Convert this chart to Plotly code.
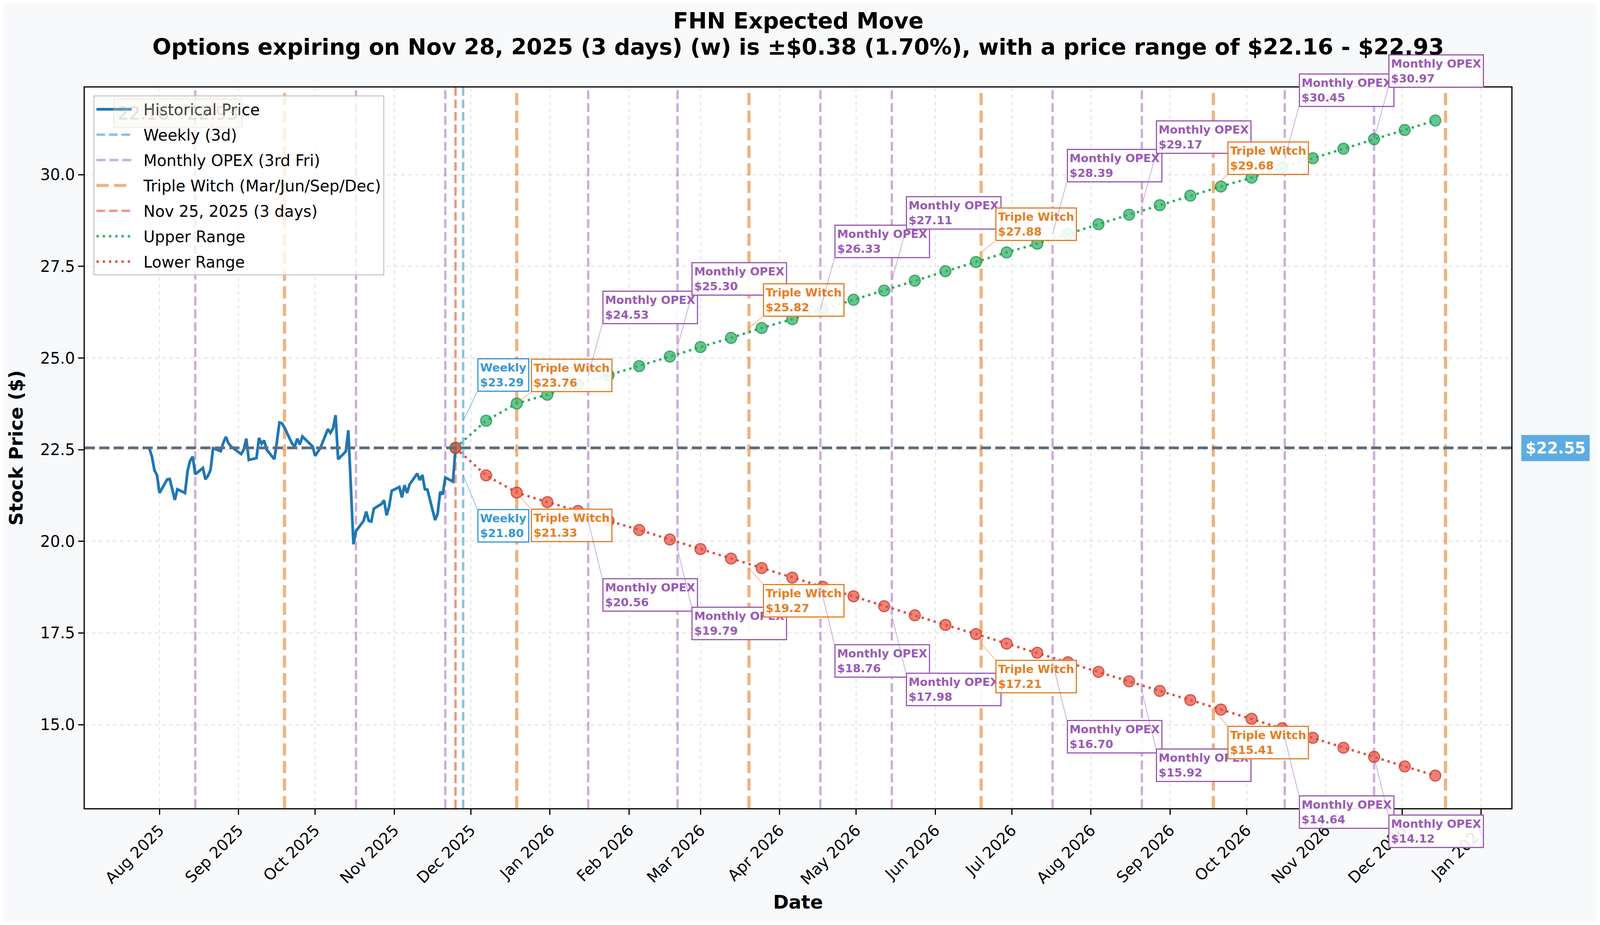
import plotly.graph_objects as go

# Historical closes
hist_dates = [
    "2025-07-28", "2025-07-29", "2025-07-30", "2025-07-31", "2025-08-01",
    "2025-08-04", "2025-08-05", "2025-08-06", "2025-08-07", "2025-08-08",
    "2025-08-11", "2025-08-12", "2025-08-13", "2025-08-14", "2025-08-15",
    "2025-08-18", "2025-08-19", "2025-08-20", "2025-08-21", "2025-08-22",
    "2025-08-25", "2025-08-26", "2025-08-27", "2025-08-28", "2025-08-29",
    "2025-09-02", "2025-09-03", "2025-09-04", "2025-09-05",
    "2025-09-08", "2025-09-09", "2025-09-10", "2025-09-11", "2025-09-12",
    "2025-09-15", "2025-09-16", "2025-09-17", "2025-09-18", "2025-09-19",
    "2025-09-22", "2025-09-23", "2025-09-24", "2025-09-25", "2025-09-26",
    "2025-09-29", "2025-09-30", "2025-10-01", "2025-10-02", "2025-10-03",
    "2025-10-06", "2025-10-07", "2025-10-08", "2025-10-09", "2025-10-10",
    "2025-10-13", "2025-10-14", "2025-10-15", "2025-10-16", "2025-10-17",
    "2025-10-20", "2025-10-21", "2025-10-22", "2025-10-23", "2025-10-24",
    "2025-10-27", "2025-10-28", "2025-10-29", "2025-10-30", "2025-10-31",
    "2025-11-03", "2025-11-04", "2025-11-05", "2025-11-06", "2025-11-07",
    "2025-11-10", "2025-11-11", "2025-11-12", "2025-11-13", "2025-11-14",
    "2025-11-17", "2025-11-18", "2025-11-19", "2025-11-20", "2025-11-21",
    "2025-11-24", "2025-11-25",
]
hist_prices = [
    22.54, 22.32, 21.94, 21.81, 21.32,
    21.69, 21.70, 21.42, 21.13, 21.42,
    21.32, 21.92, 22.20, 22.31, 21.83,
    22.00, 21.69, 21.79, 21.95, 22.54,
    22.46, 22.69, 22.85, 22.68, 22.59,
    22.38, 22.50, 22.80, 22.22,
    22.27, 22.82, 22.66, 22.75, 22.50,
    22.24, 22.71, 23.24, 23.22, 23.10,
    22.66, 22.59, 22.80, 22.64, 22.86,
    22.64, 22.59, 22.33, 22.45, 22.54,
    23.06, 22.96, 23.08, 23.44, 22.24,
    22.45, 23.03, 21.45, 19.92, 20.28,
    20.56, 20.81, 20.56, 20.54, 20.89,
    21.02, 21.12, 20.71, 20.95, 21.38,
    21.48, 21.20, 21.53, 21.32, 21.55,
    21.85, 21.67, 21.81, 21.42, 21.41,
    20.58, 20.75, 21.35, 21.28, 21.74,
    21.63, 22.55,
]

current_price = 22.55

# Projected range points
range_dates = [
    "2025-11-25", "2025-12-07", "2025-12-19", "2025-12-31", "2026-01-12",
    "2026-01-24", "2026-02-05", "2026-02-17", "2026-03-01", "2026-03-13",
    "2026-03-25", "2026-04-06", "2026-04-18", "2026-04-30", "2026-05-12",
    "2026-05-24", "2026-06-05", "2026-06-17", "2026-06-29", "2026-07-11",
    "2026-07-23", "2026-08-04", "2026-08-16", "2026-08-28", "2026-09-09",
    "2026-09-21", "2026-10-03", "2026-10-15", "2026-10-27", "2026-11-08",
    "2026-11-20", "2026-12-02", "2026-12-14",
]
upper_range = [
    22.55, 23.29, 23.76, 24.00, 24.28, 24.53, 24.78, 25.04, 25.30, 25.55,
    25.82, 26.06, 26.33, 26.59, 26.84, 27.11, 27.37, 27.62, 27.88, 28.12,
    28.39, 28.65, 28.91, 29.17, 29.43, 29.68, 29.92, 30.20, 30.45, 30.71,
    30.97, 31.22, 31.48,
]
lower_range = [
    22.55, 21.80, 21.33, 21.07, 20.83, 20.56, 20.31, 20.05, 19.79, 19.53,
    19.27, 19.01, 18.76, 18.50, 18.23, 17.98, 17.72, 17.47, 17.21, 16.96,
    16.70, 16.44, 16.18, 15.92, 15.67, 15.41, 15.16, 14.90, 14.64, 14.37,
    14.12, 13.86, 13.61,
]

# Expiration markers
opex_dates = ["2025-08-15", "2025-10-17", "2025-11-21", "2026-01-16", "2026-02-20",
              "2026-04-17", "2026-05-15", "2026-07-17", "2026-08-21", "2026-10-16",
              "2026-11-20"]
witch_dates = ["2025-09-19", "2025-12-19", "2026-03-20", "2026-06-19", "2026-09-18",
               "2026-12-18"]
weekly_date = "2025-11-28"
today_date = "2025-11-25"

# Labelled expirations
label_dates = ["2025-11-28", "2025-12-19", "2026-01-16", "2026-02-20", "2026-03-20",
               "2026-04-17", "2026-05-15", "2026-06-19", "2026-07-17", "2026-08-21",
               "2026-09-18", "2026-10-16", "2026-11-20"]
label_kinds = ["Weekly", "Triple Witch", "Monthly OPEX", "Monthly OPEX", "Triple Witch",
               "Monthly OPEX", "Monthly OPEX", "Triple Witch", "Monthly OPEX",
               "Monthly OPEX", "Triple Witch", "Monthly OPEX", "Monthly OPEX"]
label_upper = [23.29, 23.76, 24.53, 25.30, 25.82, 26.33, 27.11, 27.88, 28.39, 29.17,
               29.68, 30.45, 30.97]
label_lower = [21.80, 21.33, 20.56, 19.79, 19.27, 18.76, 17.98, 17.21, 16.70, 15.92,
               15.41, 14.64, 14.12]

title_line1 = "FHN Expected Move"
title_line2 = ("Options expiring on Nov 28, 2025 (3 days) (w) is ±$0.38 (1.70%), "
               "with a price range of $22.16 - $22.93")

FONT = "DejaVu Sans"
NB = "\u00a0\u00a0"
kind_colors = {"Weekly": "#3498db", "Monthly OPEX": "#9b59b6", "Triple Witch": "#e67e22"}
arrow_colors = {"Weekly": "rgba(52,152,219,0.6)", "Monthly OPEX": "rgba(155,89,182,0.5)",
                "Triple Witch": "rgba(230,126,34,0.5)"}
# pixel offsets of the label boxes (up, down)
label_offsets = {"Weekly": (-74, 86), "Triple Witch": (-29, 41), "Monthly OPEX": (-131, 147)}

fig = go.Figure()

# vertical expiration lines (shapes) + legend stand-ins
vline_styles = [
    ([weekly_date], "rgba(52,152,219,0.6)", 6, "22px,10px", "Weekly (3d)"),
    (opex_dates, "rgba(155,89,182,0.5)", 6, "23px,10px", "Monthly OPEX (3rd Fri)"),
    (witch_dates, "rgba(230,126,34,0.6)", 8, "31px,14px", "Triple Witch (Mar/Jun/Sep/Dec)"),
    ([today_date], "rgba(231,76,60,0.6)", 6, "22px,10px", "Nov 25, 2025 (3 days)"),
]

fig.add_trace(go.Scatter(
    x = hist_dates,
    y = hist_prices,
    mode = 'lines',
    name = NB + 'Historical Price',
    legendgroup = 'hist',
    line = dict(color='#1f77b4', width=7)
))

for dates, col, w, dash, name in vline_styles:
    for d in dates:
        fig.add_shape(type='line', xref='x', yref='paper', x0=d, x1=d, y0=0, y1=1,
                      line=dict(color=col, width=w, dash=dash), layer='between')
    fig.add_trace(go.Scatter(
        x = [None], y = [None],
        mode = 'lines',
        name = NB + name,
        legendgroup = name,
        line = dict(color=col, width=w, dash=dash)
    ))

fig.add_hline(y=current_price, line=dict(color='#5D6D7E', width=7, dash='26px,11px'))

# range lines
fig.add_trace(go.Scatter(
    x = range_dates, y = upper_range,
    mode = 'lines',
    name = NB + 'Upper Range',
    legendgroup = 'up',
    line = dict(color='#27ae60', width=6, dash='6px,10px')
))
fig.add_trace(go.Scatter(
    x = range_dates, y = lower_range,
    mode = 'lines',
    name = NB + 'Lower Range',
    legendgroup = 'lo',
    line = dict(color='#e74c3c', width=6, dash='6px,10px')
))
fig.add_trace(go.Scatter(
    x = range_dates, y = upper_range,
    mode = 'markers',
    showlegend = False,
    marker = dict(size=28, color='rgba(39,174,96,0.7)', line=dict(color='rgba(30,150,80,0.8)', width=3))
))
fig.add_trace(go.Scatter(
    x = range_dates, y = lower_range,
    mode = 'markers',
    showlegend = False,
    marker = dict(size=28, color='rgba(231,76,60,0.7)', line=dict(color='rgba(200,60,45,0.8)', width=3))
))

# labels on the expirations
for d, kind, up, lo in zip(label_dates, label_kinds, label_upper, label_lower):
    col = kind_colors[kind]
    off_up, off_lo = label_offsets[kind]
    for val, off, yanc in ((up, off_up, 'bottom'), (lo, off_lo, 'top')):
        fig.add_annotation(
            x = d, y = val,
            text = f"<b>{kind}<br>${val:.2f}</b>",
            showarrow = True, arrowhead = 0, arrowwidth = 2,
            arrowcolor = arrow_colors[kind],
            ax = 36, ay = off,
            xanchor = 'left', yanchor = yanc, align = 'left',
            font = dict(family=FONT, size=29, color=col),
            bgcolor = 'rgba(255,255,255,0.9)',
            bordercolor = col, borderwidth = 3, borderpad = 4
        )

# faint range text box top-left
fig.add_annotation(
    xref='paper', yref='paper', x=0.02, y=0.985, xanchor='left', yanchor='top',
    text="22.16 - 22.93", showarrow=False,
    font=dict(family=FONT, size=46, color='rgba(170,170,170,0.35)'),
    bgcolor='rgba(245,240,225,0.25)', bordercolor='rgba(200,200,200,0.25)',
    borderwidth=3, borderpad=8
)

# current price tag on the right
fig.add_annotation(
    xref='paper', yref='y', x=1, y=current_price, xanchor='left', xshift=25,
    text=f"<b>${current_price:.2f}</b>", showarrow=False,
    font=dict(family=FONT, size=40, color='white'),
    bgcolor='#5DADE2', borderpad=10
)

# two-line title
for txt, shift in ((title_line1, 171), (title_line2, 104)):
    fig.add_annotation(
        xref='paper', yref='paper', x=0.5, y=1, xanchor='center', yanchor='middle',
        yshift=shift, text=f"<b>{txt}</b>", showarrow=False,
        font=dict(family=FONT, size=57, color='black')
    )

# width follows the browser window, height fixed
fig.update_layout(
    autosize = True,
    height = 2352,
    paper_bgcolor = '#F8F9FA',
    plot_bgcolor = 'white',
    font = dict(family=FONT, size=40, color='black'),
    margin = dict(l=209, r=219, t=216, b=291),
    legend = dict(
        x = 0.006, y = 0.989, xanchor = 'left', yanchor = 'top',
        bgcolor = 'rgba(255,255,255,0.8)', bordercolor = '#cccccc', borderwidth = 3,
        font = dict(family=FONT, size=40), itemwidth = 90, tracegroupgap = 10
    ),
    showlegend = True
)

fig.update_xaxes(
    type = 'date',
    range = ['2025-07-02 17:00', '2027-01-12 19:00'],
    tick0 = '2025-08-01', dtick = 'M1', tickformat = '%b %Y', tickangle = -45,
    ticks = 'outside', ticklen = 14, tickwidth = 3, tickcolor = 'black',
    tickfont = dict(family=FONT, size=40),
    showline = True, linecolor = 'black', linewidth = 3, mirror = True,
    showgrid = True, gridcolor = 'rgba(0,0,0,0.1)', gridwidth = 3, griddash = 'dash',
    zeroline = False,
    title = dict(text='<b>Date</b>', font=dict(family=FONT, size=48), standoff=20),
    automargin = False
)
fig.update_yaxes(
    range = [12.72, 32.38],
    tick0 = 0, dtick = 2.5, tickformat = '.1f',
    ticks = 'outside', ticklen = 14, tickwidth = 3, tickcolor = 'black',
    tickfont = dict(family=FONT, size=40),
    showline = True, linecolor = 'black', linewidth = 3, mirror = True,
    showgrid = True, gridcolor = 'rgba(0,0,0,0.1)', gridwidth = 3, griddash = 'dash',
    zeroline = False,
    title = dict(text='<b>Stock Price ($)</b>', font=dict(family=FONT, size=48), standoff=30),
    automargin = False
)

fig.write_html("out.html")
